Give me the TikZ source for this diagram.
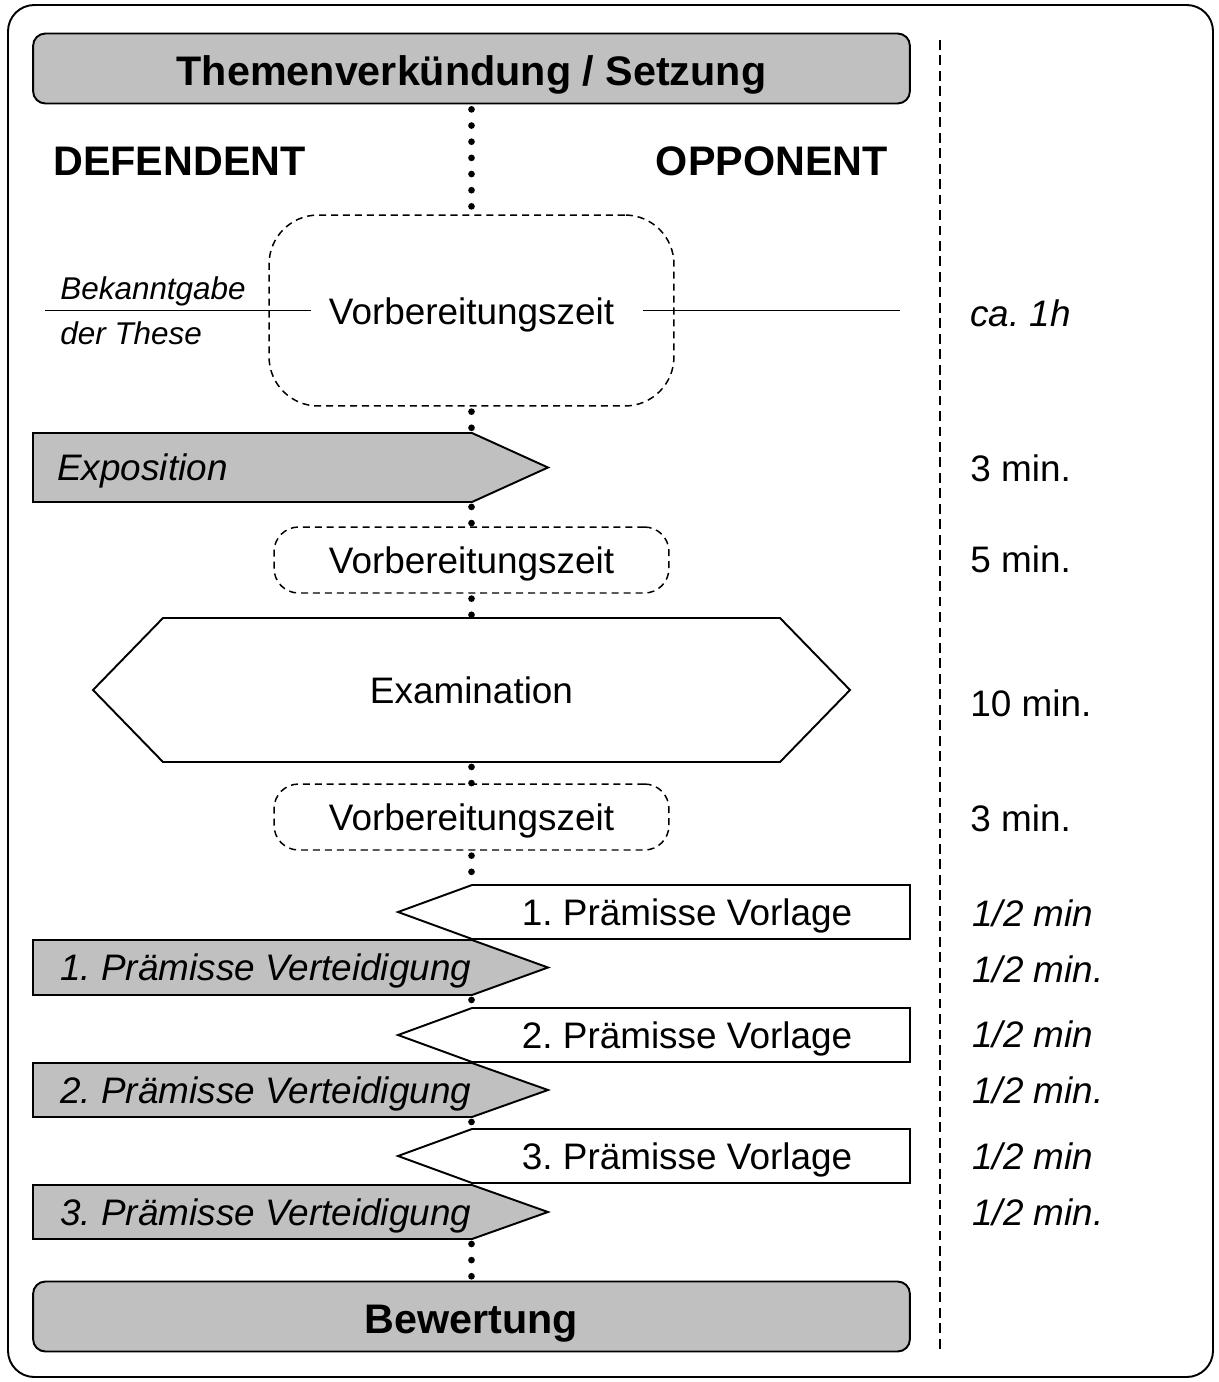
\documentclass[tikz,border=0pt]{standalone}
\usepackage{fontspec}
\setmainfont{Liberation Sans}
\frenchspacing
\definecolor{boxgray}{HTML}{C0C0C0}
\tikzset{
  frame/.style={draw=black, line width=1.1pt, rounded corners=15pt},
  headbox/.style={draw=black, fill=boxgray, line width=1.1pt, rounded corners=7pt, inner sep=0pt,
    minimum width=17.54cm, minimum height=1.4cm, font=\fontsize{23.5}{28}\selectfont\bfseries,
    text height=19pt, text depth=0pt},
  sidehead/.style={font=\fontsize{23.5}{28}\selectfont\bfseries, inner sep=0pt},
  waitbox/.style={draw=black, dash pattern=on 4pt off 2.8pt, line width=0.85pt, inner sep=0pt},
  defarrow/.style={draw=black, fill=boxgray, line width=1.1pt},
  opparrow/.style={draw=black, fill=white, line width=1.1pt},
  steptext/.style={font=\fontsize{21}{25}\selectfont, inner sep=0pt, anchor=base},
  deftext/.style={font=\fontsize{21}{25}\selectfont\itshape, inner sep=0pt, anchor=base west},
  timetext/.style={font=\fontsize{21}{25}\selectfont, inner sep=0pt, anchor=base west},
  notetext/.style={font=\fontsize{17.9}{21}\selectfont\itshape, inner sep=0pt, anchor=base west},
  dotline/.style={line width=3.8pt, line cap=round, dash pattern=on 0pt off 9.2pt, dash phase=6.4pt},
  sepline/.style={line width=1.1pt, dash pattern=on 5.6pt off 3.2pt},
  thinline/.style={line width=0.75pt},
}
\begin{document}
\begin{tikzpicture}[x=0.02cm, y=-0.02cm]
  \useasboundingbox (0,0) rectangle (1218,1382);
  \draw[frame] (8,5) rectangle (1213,1377);

  % Kopf
  \node[headbox] (title) at (471.5,68.5) {Themenverkündung / Setzung};
  \node[sidehead, anchor=base west] (def) at (53,176) {DEFENDENT};
  \node[sidehead, anchor=base east] (opp) at (888,176) {OPPONENT};

  % Zeitspalte
  \coordinate (sepT) at (940,40);
  \coordinate (sepB) at (940,1350);
  \draw[sepline] (sepT) -- (sepB);

  % Vorbereitung
  \node[waitbox, rounded corners=28pt, minimum width=8.1cm, minimum height=3.82cm] (vbA) at (471.5,310.5) {};
  \node[steptext] (vbAtxt) at (471.5,324) {Vorbereitungszeit};
  \coordinate (bkL) at (45,310.5);
  \coordinate (caR) at (900,310.5);
  \draw[thinline, shorten >=10pt] (bkL) -- (bkL -| vbAtxt.west);
  \draw[thinline, shorten <=16pt] (caR -| vbAtxt.east) -- (caR);
  \node[notetext] (bek1) at (60,299) {Bekanntgabe};
  \node[notetext] (bek2) at (60,344) {der These};

  % Exposition
  \draw[defarrow] (33,433) -- (472,433) -- (548,467.5) -- (472,502) -- (33,502) -- cycle;
  \coordinate (expN) at (471.5,433);
  \coordinate (expS) at (471.5,502);
  \node[deftext] (exp) at (57,480) {Exposition};

  \node[waitbox, rounded corners=14pt, minimum width=7.9cm, minimum height=1.32cm] (vbB) at (471.5,560) {};
  \node[steptext] (vbBtxt) at (471.5,573) {Vorbereitungszeit};

  % Examination
  \draw[opparrow] (93,690) -- (163,618) -- (780,618) -- (850,690) -- (780,762) -- (163,762) -- cycle;
  \coordinate (exaN) at (471.5,618);
  \coordinate (exaS) at (471.5,762);
  \node[steptext] (exa) at (471.5,703) {Examination};

  \node[waitbox, rounded corners=14pt, minimum width=7.9cm, minimum height=1.32cm] (vbC) at (471.5,817) {};
  \node[steptext] (vbCtxt) at (471.5,830) {Vorbereitungszeit};

  % Praemissen
  \draw[opparrow] (910,885) -- (472,885) -- (398,912) -- (472,939) -- (910,939) -- cycle;
  \coordinate (vor1N) at (471.5,885);
  \node[steptext] (vor1) at (687,925) {1. Prämisse Vorlage};
  \draw[defarrow] (33,940) -- (472,940) -- (548,967.5) -- (472,995) -- (33,995) -- cycle;
  \coordinate (ver1S) at (471.5,995);
  \node[deftext] (ver1) at (60,980) {1. Prämisse Verteidigung};

  \draw[opparrow] (910,1008) -- (472,1008) -- (398,1035) -- (472,1062) -- (910,1062) -- cycle;
  \coordinate (vor2N) at (471.5,1008);
  \node[steptext] (vor2) at (687,1048) {2. Prämisse Vorlage};
  \draw[defarrow] (33,1063) -- (472,1063) -- (548,1090) -- (472,1117) -- (33,1117) -- cycle;
  \coordinate (ver2S) at (471.5,1117);
  \node[deftext] (ver2) at (60,1103) {2. Prämisse Verteidigung};

  \draw[opparrow] (910,1129) -- (472,1129) -- (398,1156) -- (472,1183) -- (910,1183) -- cycle;
  \coordinate (vor3N) at (471.5,1129);
  \node[steptext] (vor3) at (687,1169) {3. Prämisse Vorlage};
  \draw[defarrow] (33,1185) -- (472,1185) -- (548,1212) -- (472,1239) -- (33,1239) -- cycle;
  \coordinate (ver3S) at (471.5,1239);
  \node[deftext] (ver3) at (60,1225) {3. Prämisse Verteidigung};

  \node[headbox] (bew) at (471.5,1316.5) {Bewertung};

  % Punktlinien
  \draw[dotline] (title.south) -- (vbA.north);
  \draw[dotline] (vbA.south) -- (expN);
  \draw[dotline] (expS) -- (vbB.north);
  \draw[dotline] (vbB.south) -- (exaN);
  \draw[dotline] (exaS) -- (vbC.north);
  \draw[dotline] (vbC.south) -- (vor1N);
  \draw[dotline] (ver1S) -- (vor2N);
  \draw[dotline] (ver2S) -- (vor3N);
  \draw[dotline] (ver3S) -- (bew.north);

  % Zeiten
  \node[timetext, font=\fontsize{21}{25}\selectfont\itshape] (t0) at (970,326) {ca. 1h};
  \node[timetext] (t1) at (970,481) {3 min.};
  \node[timetext] (t2) at (970,572) {5 min.};
  \node[timetext] (t3) at (970,716) {10 min.};
  \node[timetext] (t4) at (970,831) {3 min.};
  \node[timetext, font=\fontsize{21}{25}\selectfont\itshape] (t5) at (972,926) {1/2 min};
  \node[timetext, font=\fontsize{21}{25}\selectfont\itshape] (t6) at (972,982) {1/2 min.};
  \node[timetext, font=\fontsize{21}{25}\selectfont\itshape] (t7) at (972,1047) {1/2 min};
  \node[timetext, font=\fontsize{21}{25}\selectfont\itshape] (t8) at (972,1103) {1/2 min.};
  \node[timetext, font=\fontsize{21}{25}\selectfont\itshape] (t9) at (972,1169) {1/2 min};
  \node[timetext, font=\fontsize{21}{25}\selectfont\itshape] (t10) at (972,1225) {1/2 min.};
\end{tikzpicture}
\end{document}
